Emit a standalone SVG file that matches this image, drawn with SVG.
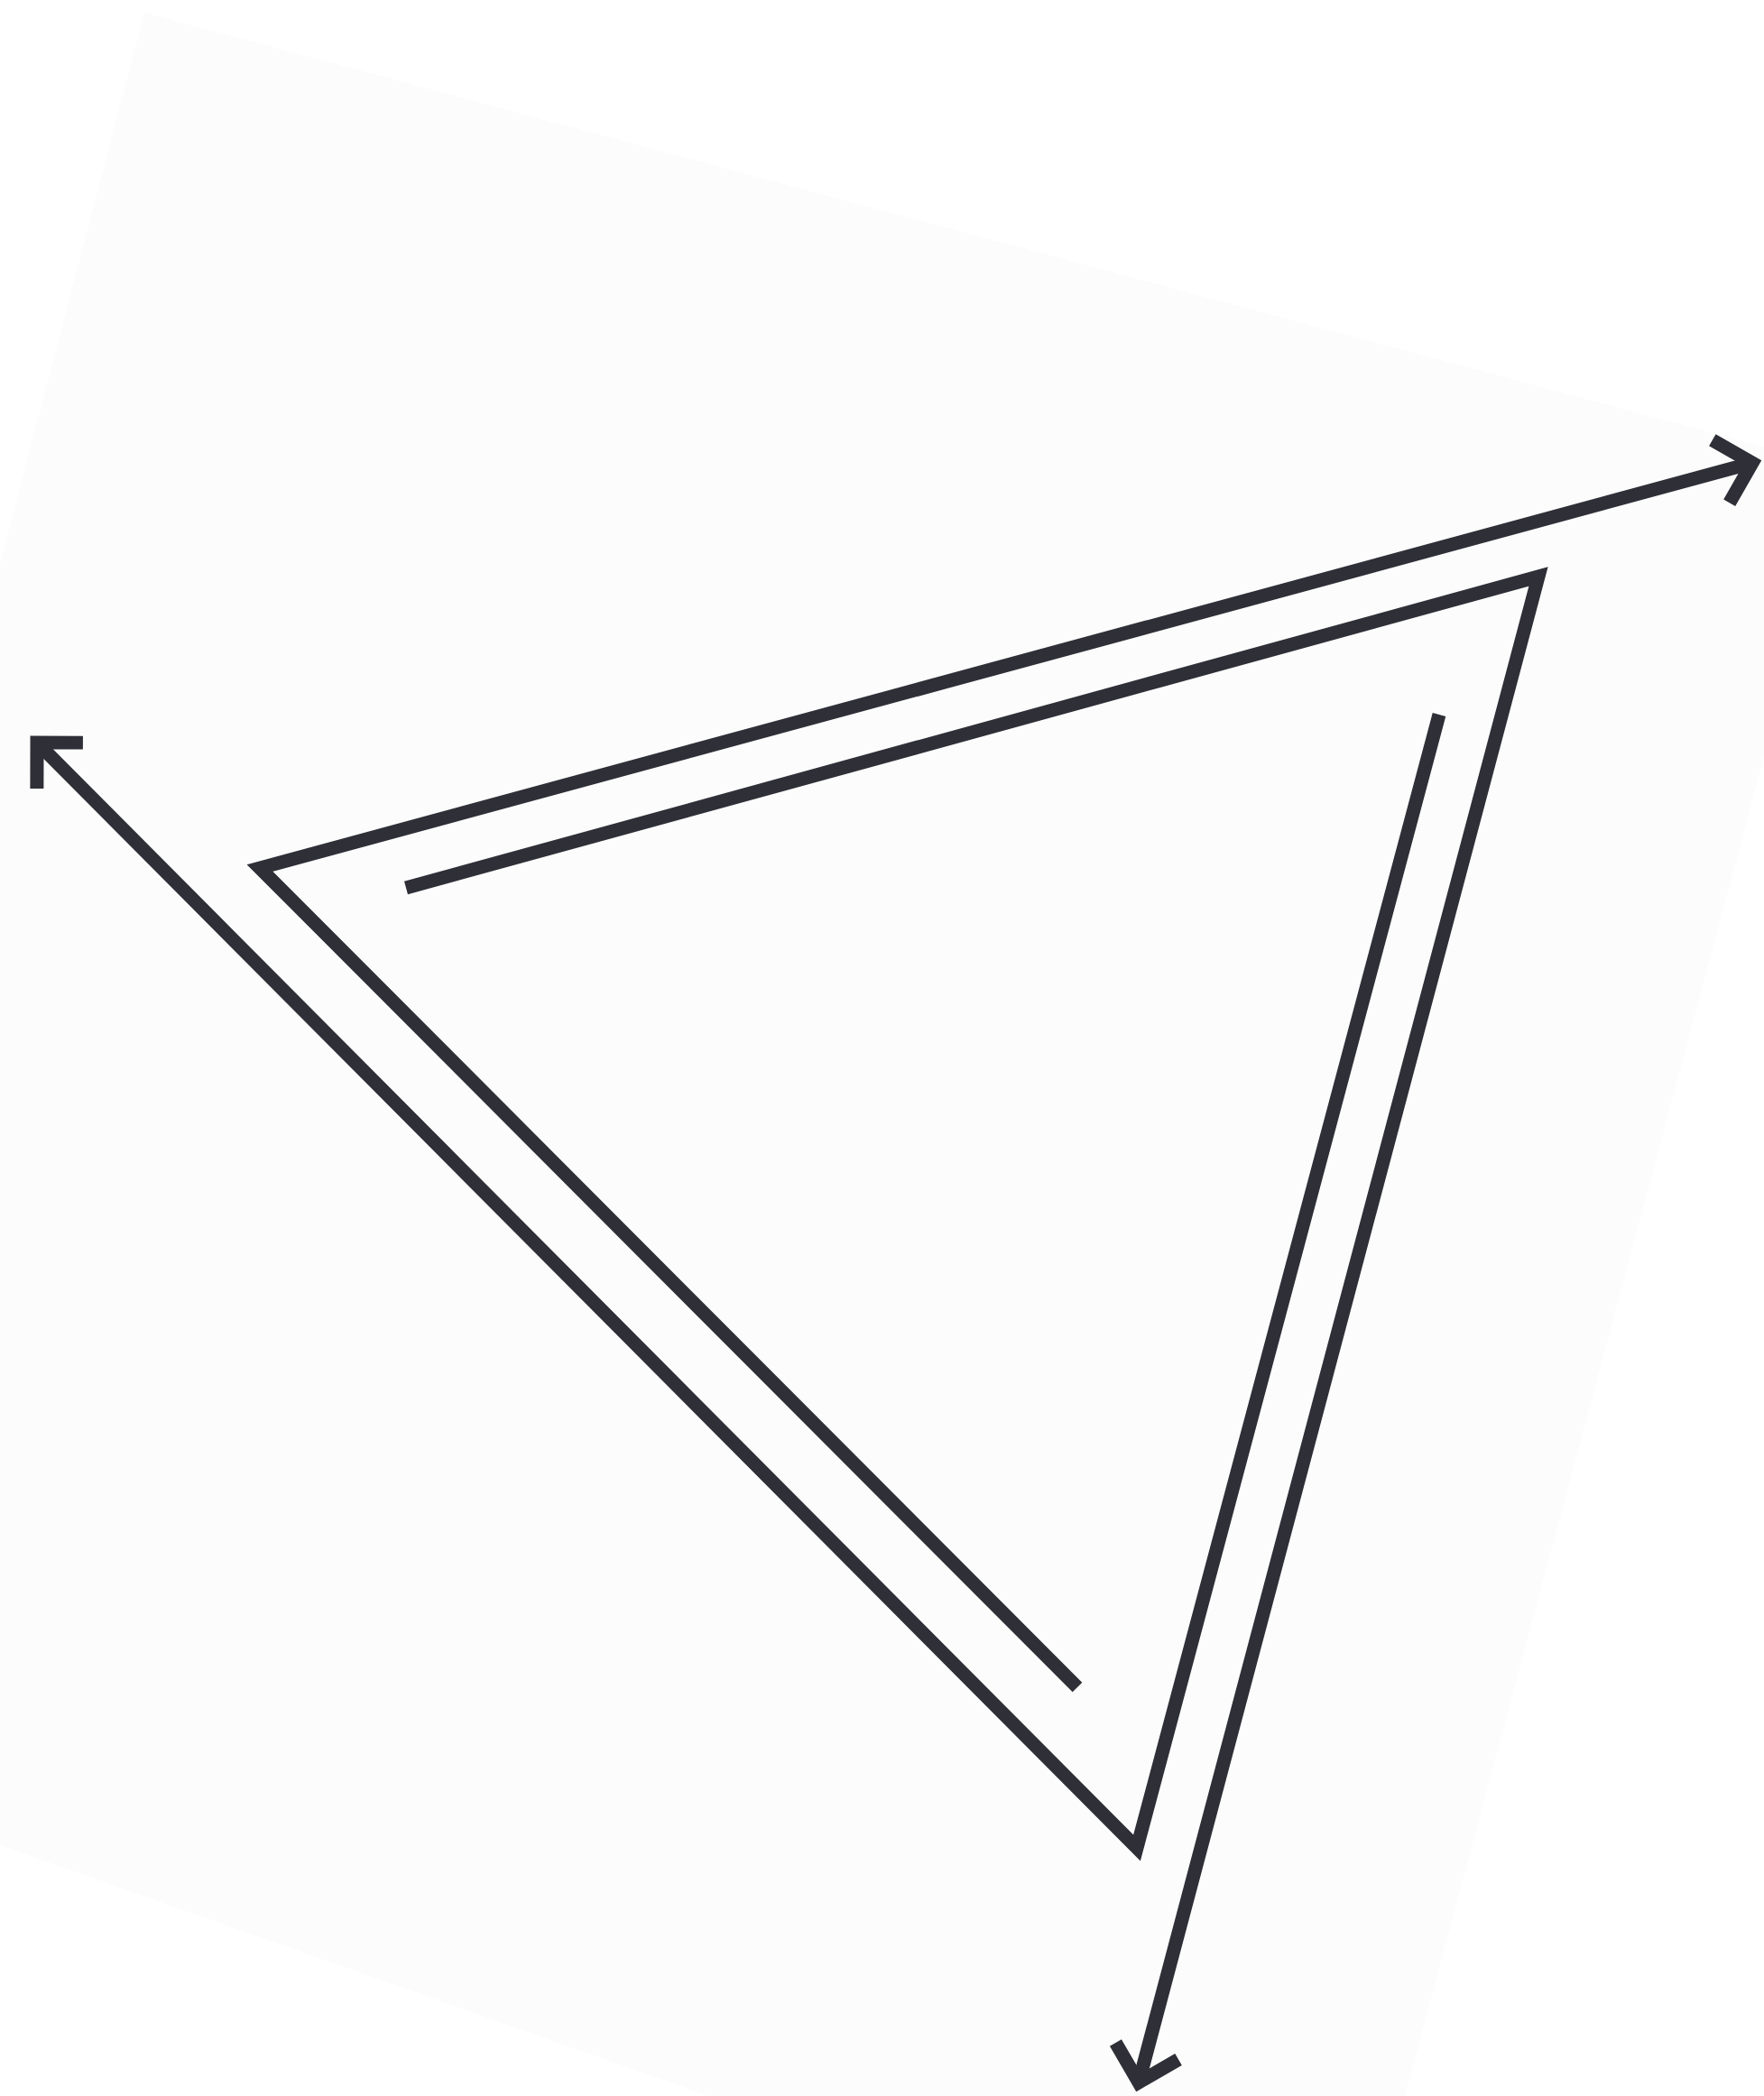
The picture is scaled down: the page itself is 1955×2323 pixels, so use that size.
<svg xmlns="http://www.w3.org/2000/svg" width="1955" height="2323" viewBox="0 0 1955 2323">
  <style>
    .ln { fill: none; stroke: #2e2f37; stroke-width: 15; stroke-linejoin: miter; stroke-miterlimit: 10; stroke-linecap: butt; }
  </style>
  <defs>
    <marker id="arrow" markerUnits="userSpaceOnUse" orient="auto" refX="0" refY="0" markerWidth="10" markerHeight="10" overflow="visible">
      <path d="M -36 -36 L 0 0 L -36 36" fill="none" stroke="#2e2f37" stroke-width="15" stroke-linejoin="miter"/>
    </marker>
  </defs>
  <rect width="1955" height="2323" fill="#ffffff"/>
  <polygon id="backdrop" points="160,14 1955,495 1955,839 1557,2323 785,2323 0,2045 0,625" fill="#fcfcfc"/>
  <g id="connectors">
    <path id="arm-a" class="ln" d="M 1194 1870 L 288 962 L 1942 513" marker-end="url(#arrow)"/>
    <path id="arm-b" class="ln" d="M 450 984 L 1705 639 L 1262 2308" marker-end="url(#arrow)"/>
    <path id="arm-c" class="ln" d="M 1595 792 L 1260 2048 L 41 823" marker-end="url(#arrow)"/>
  </g>
</svg>
